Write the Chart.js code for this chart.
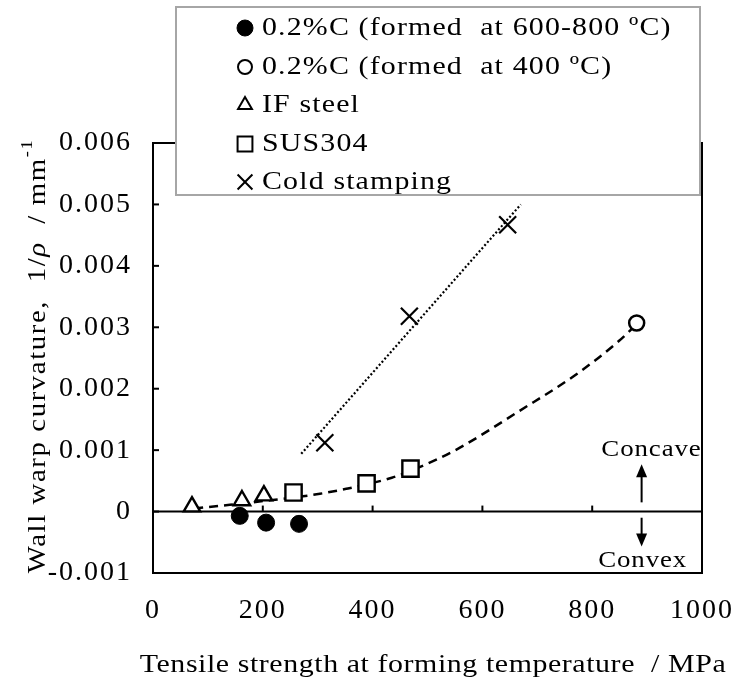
<!DOCTYPE html>
<html>
<head>
<meta charset="utf-8">
<script src="https://cdn.jsdelivr.net/npm/chart.js@4.4.0/dist/chart.umd.min.js"></script>
<style>
  html, body { margin: 0; padding: 0; background: #fff; }
  #wrap { width: 751px; height: 681px; }
</style>
</head>
<body>
<div id="wrap"><canvas id="warpChart"></canvas></div>
<script>
// measured points
const hot600Strength = [158, 206, 266];
const hot600Curv = [-0.00007, -0.00018, -0.0002];
const hot400Strength = [881];
const hot400Curv = [0.00307];
const ifSteelStrength = [71, 162, 202];
const ifSteelCurv = [0.00008, 0.00018, 0.00026];
const sus304Strength = [256, 389, 469];
const sus304Curv = [0.00031, 0.00046, 0.0007];
const coldStrength = [313, 467, 646];
const coldCurv = [0.00112, 0.00318, 0.00467];

// trend lines
const dashTrendX = [75, 140, 200, 257, 304, 352, 435, 469, 517, 559, 666, 772, 849, 881];
const dashTrendY = [0.00005, 0.00011, 0.00017, 0.00023, 0.00029, 0.00037, 0.00055, 0.00066, 0.00085, 0.00104, 0.00163, 0.00224, 0.00278, 0.00305];
const dotTrendX = [270, 670];
const dotTrendY = [0.00094, 0.005];

const xTickValues = [0, 200, 400, 600, 800, 1000];
const yTickValues = [-0.001, 0, 0.001, 0.002, 0.003, 0.004, 0.005, 0.006];

const legendLabels = [
  "0.2%C (formed  at 600-800 ºC)",
  "0.2%C (formed  at 400 ºC)",
  "IF steel",
  "SUS304",
  "Cold stamping"
];

const FONT = "'Liberation Serif', 'Times New Roman', serif";

function pts(xs, ys) {
  return xs.map((x, i) => ({ x: x, y: ys[i] }));
}

// text in the original is set wide; stretch it a bit
function wideText(ctx, text, x, y, font, sx, spacing) {
  ctx.save();
  ctx.translate(x, y);
  ctx.scale(sx, 1);
  ctx.font = font;
  ctx.letterSpacing = spacing + 'px';
  ctx.fillText(text, 0, 0);
  ctx.restore();
}

const markerSets = [
  { data: pts(hot600Strength, hot600Curv), pointStyle: 'circle', pointRadius: 8.5, pointBackgroundColor: '#000', pointBorderColor: '#000', pointBorderWidth: 1 },
  { data: pts(hot400Strength, hot400Curv), pointStyle: 'circle', pointRadius: 7.5, pointBackgroundColor: '#fff', pointBorderColor: '#000', pointBorderWidth: 2.5 },
  { data: pts(ifSteelStrength, ifSteelCurv), pointStyle: 'triangle', pointRadius: 9.5, pointBackgroundColor: '#fff', pointBorderColor: '#000', pointBorderWidth: 2.4 },
  { data: pts(sus304Strength, sus304Curv), pointStyle: 'rect', pointRadius: 11.5, pointBackgroundColor: '#fff', pointBorderColor: '#000', pointBorderWidth: 2.4 },
  { data: pts(coldStrength, coldCurv), pointStyle: 'crossRot', pointRadius: 12, pointBackgroundColor: '#000', pointBorderColor: '#000', pointBorderWidth: 2.2 }
];

// legend marker sizes (smaller than in plot)
const legendMarkers = [
  { pointStyle: 'circle', radius: 8, fill: '#000', lw: 1 },
  { pointStyle: 'circle', radius: 7, fill: '#fff', lw: 2 },
  { pointStyle: 'triangle', radius: 8, fill: '#fff', lw: 2 },
  { pointStyle: 'rect', radius: 10.5, fill: '#fff', lw: 2 },
  { pointStyle: 'crossRot', radius: 10.5, fill: '#000', lw: 2 }
];

const framePlugin = {
  id: 'frame',
  beforeDraw(chart) {
    // loose spacing for the tick labels
    chart.ctx.letterSpacing = '2px';
  },
  beforeDatasetsDraw(chart) {
    const { ctx, chartArea: a, scales } = chart;
    const xs = scales.x, ys = scales.y;
    ctx.save();
    ctx.strokeStyle = '#000';
    ctx.lineWidth = 2;
    ctx.strokeRect(a.left, a.top, a.right - a.left, a.bottom - a.top);
    const y0 = ys.getPixelForValue(0);
    ctx.beginPath();
    ctx.moveTo(a.left, y0);
    ctx.lineTo(a.right, y0);
    ctx.stroke();
    // x ticks on the zero line, pointing up
    xTickValues.forEach(v => {
      const px = xs.getPixelForValue(v);
      ctx.beginPath();
      ctx.moveTo(px, y0);
      ctx.lineTo(px, y0 - 6);
      ctx.stroke();
    });
    // y ticks, inside
    yTickValues.forEach(v => {
      const py = ys.getPixelForValue(v);
      ctx.beginPath();
      ctx.moveTo(a.left, py);
      ctx.lineTo(a.left + 6, py);
      ctx.stroke();
    });
    ctx.restore();
  },
  afterDraw(chart) {
    const { ctx, scales } = chart;
    const xs = scales.x, ys = scales.y;
    ctx.letterSpacing = '0px';
    ctx.save();
    ctx.fillStyle = '#000';
    ctx.strokeStyle = '#000';

    // concave / convex arrows
    const ax = xs.getPixelForValue(890);
    ctx.lineWidth = 2;
    const upTop = ys.getPixelForValue(0.00077), upBot = ys.getPixelForValue(0.00015);
    ctx.beginPath(); ctx.moveTo(ax, upBot); ctx.lineTo(ax, upTop + 8); ctx.stroke();
    ctx.beginPath(); ctx.moveTo(ax, upTop); ctx.lineTo(ax - 5.5, upTop + 13); ctx.lineTo(ax + 5.5, upTop + 13); ctx.closePath(); ctx.fill();
    const dnTop = ys.getPixelForValue(-0.0001), dnBot = ys.getPixelForValue(-0.00057);
    ctx.beginPath(); ctx.moveTo(ax, dnTop); ctx.lineTo(ax, dnBot - 8); ctx.stroke();
    ctx.beginPath(); ctx.moveTo(ax, dnBot); ctx.lineTo(ax - 5.5, dnBot - 13); ctx.lineTo(ax + 5.5, dnBot - 13); ctx.closePath(); ctx.fill();

    ctx.textAlign = 'center';
    ctx.textBaseline = 'middle';
    wideText(ctx, 'Concave', xs.getPixelForValue(908), ys.getPixelForValue(0.001), '24px ' + FONT, 1.12, 0.8);
    wideText(ctx, 'Convex', xs.getPixelForValue(892), ys.getPixelForValue(-0.0008), '24px ' + FONT, 1.12, 0.8);

    // x title
    wideText(ctx, 'Tensile strength at forming temperature  / MPa', 433, 665, '26px ' + FONT, 1.15, 0.5);

    // y title with italic rho and superscript
    ctx.save();
    ctx.translate(38, 356);
    ctx.rotate(-Math.PI / 2);
    ctx.scale(1.15, 1);
    ctx.letterSpacing = '1.4px';
    const parts = [
      { t: 'Wall warp curvature,  1/', f: '25px ' + FONT, dy: 0 },
      { t: 'ρ', f: 'italic 25px ' + FONT, dy: 0 },
      { t: '  / mm', f: '25px ' + FONT, dy: 0 },
      { t: '-1', f: '16px ' + FONT, dy: -10 }
    ];
    let total = 0;
    parts.forEach(p => { ctx.font = p.f; p.w = ctx.measureText(p.t).width; total += p.w; });
    let cx = -total / 2;
    ctx.textAlign = 'left';
    parts.forEach(p => { ctx.font = p.f; ctx.fillText(p.t, cx, p.dy); cx += p.w; });
    ctx.restore();

    // legend box
    const lx = 176, ly = 7, lw = 524, lh = 188;
    ctx.fillStyle = '#fff';
    ctx.fillRect(lx, ly, lw, lh);
    ctx.strokeStyle = '#a6a6a6';
    ctx.lineWidth = 2;
    ctx.strokeRect(lx, ly, lw, lh);
    const rows = [27, 66, 104, 143, 181];
    ctx.textAlign = 'left';
    ctx.textBaseline = 'middle';
    legendLabels.forEach((lab, i) => {
      const m = legendMarkers[i];
      ctx.fillStyle = m.fill;
      ctx.strokeStyle = '#000';
      ctx.lineWidth = m.lw;
      Chart.helpers.drawPoint(ctx, { pointStyle: m.pointStyle, radius: m.radius, rotation: 0, borderWidth: m.lw }, 245, rows[i] + 1);
      ctx.fillStyle = '#000';
      wideText(ctx, lab, 262, rows[i] + 1, '26px ' + FONT, 1.15, 1);
    });
    ctx.restore();
  }
};

const ctx = document.getElementById('warpChart').getContext('2d');

new Chart(ctx, {
  type: 'scatter',
  data: {
    datasets: [
      ...markerSets.map(s => Object.assign({ showLine: false }, s)),
      {
        data: pts(dashTrendX, dashTrendY),
        showLine: true,
        borderColor: '#000',
        borderWidth: 2.5,
        borderDash: [9, 6],
        cubicInterpolationMode: 'monotone',
        pointRadius: 0
      },
      {
        data: pts(dotTrendX, dotTrendY),
        showLine: true,
        borderColor: '#000',
        borderWidth: 2.2,
        borderDash: [2, 2.2],
        pointRadius: 0
      }
    ]
  },
  options: {
    responsive: true,
    maintainAspectRatio: false,
    animation: false,
    layout: {
      padding: { left: 0, top: 143, right: 35, bottom: 0 }
    },
    plugins: {
      legend: { display: false },
      tooltip: { enabled: false }
    },
    scales: {
      x: {
        type: 'linear',
        min: 0,
        max: 1000,
        afterBuildTicks: s => { s.ticks = xTickValues.map(v => ({ value: v })); },
        afterFit: s => { s.height = 108; },
        grid: { display: false, drawTicks: false },
        border: { display: false },
        ticks: {
          padding: 21,
          color: '#000',
          font: { family: FONT, size: 28 },
          callback: v => String(v)
        }
      },
      y: {
        type: 'linear',
        min: -0.001,
        max: 0.006,
        afterBuildTicks: s => { s.ticks = yTickValues.map(v => ({ value: v })); },
        afterFit: s => { s.width = 153; },
        grid: { display: false, drawTicks: false },
        border: { display: false },
        ticks: {
          padding: 21,
          color: '#000',
          font: { family: FONT, size: 28 },
          callback: v => v === 0 ? '0' : String(Math.round(v * 1000) / 1000)
        }
      }
    }
  },
  plugins: [framePlugin]
});
</script>
</body>
</html>
